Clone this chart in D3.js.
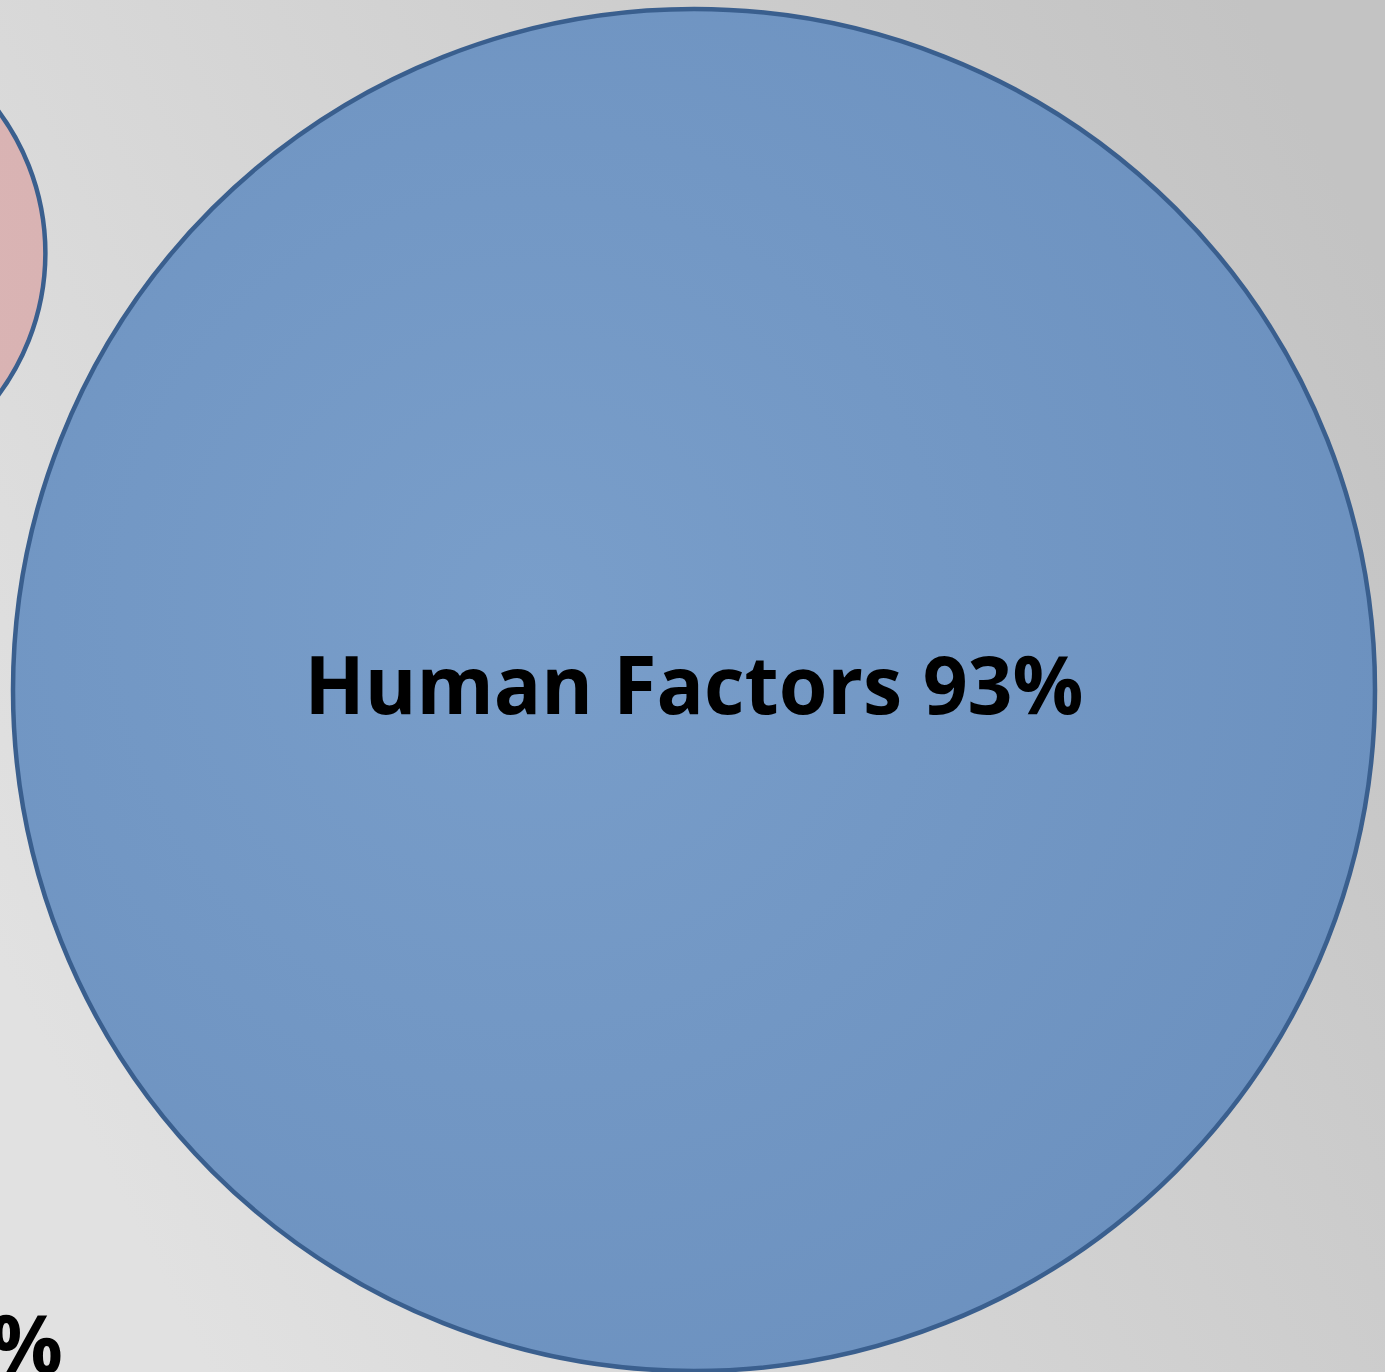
<!DOCTYPE html>
<html>
<head>
<meta charset="utf-8">
<script src="https://cdn.jsdelivr.net/npm/d3@7"></script>
<style>
  html, body { margin: 0; padding: 0; overflow: hidden; }
  svg { display: block; }
</style>
</head>
<body>
<svg id="chart"></svg>
<script>
// bubble data
const labels = ["Human Factors", "Environmental", "Equipment"];
const values = [93, 11.3, 7];
const fills = ["blue", "pink", "none"];

const W = 1385, H = 1372;

const svg = d3.select("#chart").attr("width", W).attr("height", H);
const defs = svg.append("defs");

// background
const bg = defs.append("linearGradient").attr("id", "bg")
    .attr("x1", "0%").attr("y1", "70%").attr("x2", "100%").attr("y2", "20%");
bg.append("stop").attr("offset", "0%").attr("stop-color", "#e1e1e1");
bg.append("stop").attr("offset", "100%").attr("stop-color", "#c3c3c3");
svg.append("rect").attr("width", W).attr("height", H).attr("fill", "url(#bg)");

const blue = defs.append("radialGradient").attr("id", "blue")
    .attr("cx", "38%").attr("cy", "44%").attr("r", "65%");
blue.append("stop").attr("offset", "0%").attr("stop-color", "#799eca");
blue.append("stop").attr("offset", "100%").attr("stop-color", "#6c91bf");

const pink = defs.append("radialGradient").attr("id", "pink");
pink.append("stop").attr("offset", "0%").attr("stop-color", "#dbb6b6");
pink.append("stop").attr("offset", "100%").attr("stop-color", "#d9b3b3");

// size scale: area proportional to value
const r = d3.scaleSqrt().domain([0, 93]).range([0, 681]);

// layout (centres), kept apart from the data
const centres = [[694, 690], [-192, 253], [-330, 1340]];

const g = svg.append("g");
values.forEach((v, i) => {
    if (fills[i] === "none") return;
    g.append("circle")
        .attr("cx", centres[i][0]).attr("cy", centres[i][1])
        .attr("r", r(v))
        .attr("fill", `url(#${fills[i]})`)
        .attr("stroke", "#3a5f8e")
        .attr("stroke-width", 4.5);
});

// labels
const fontSize = 81;
function addLabel(i, x, y, anchor, width) {
    const t = svg.append("text")
        .attr("x", x).attr("y", y)
        .attr("text-anchor", anchor)
        .attr("font-family", "'Open Sans', 'DejaVu Sans', sans-serif")
        .attr("font-weight", "bold")
        .attr("font-size", fontSize)
        .attr("fill", "#000")
        .text(`${labels[i]} ${Math.round(values[i])}%`);
    if (width) t.attr("textLength", width).attr("lengthAdjust", "spacingAndGlyphs");
    return t;
}
addLabel(0, 694, 714, "middle", 779);
addLabel(2, 63, 1373, "end", null);
</script>
</body>
</html>
